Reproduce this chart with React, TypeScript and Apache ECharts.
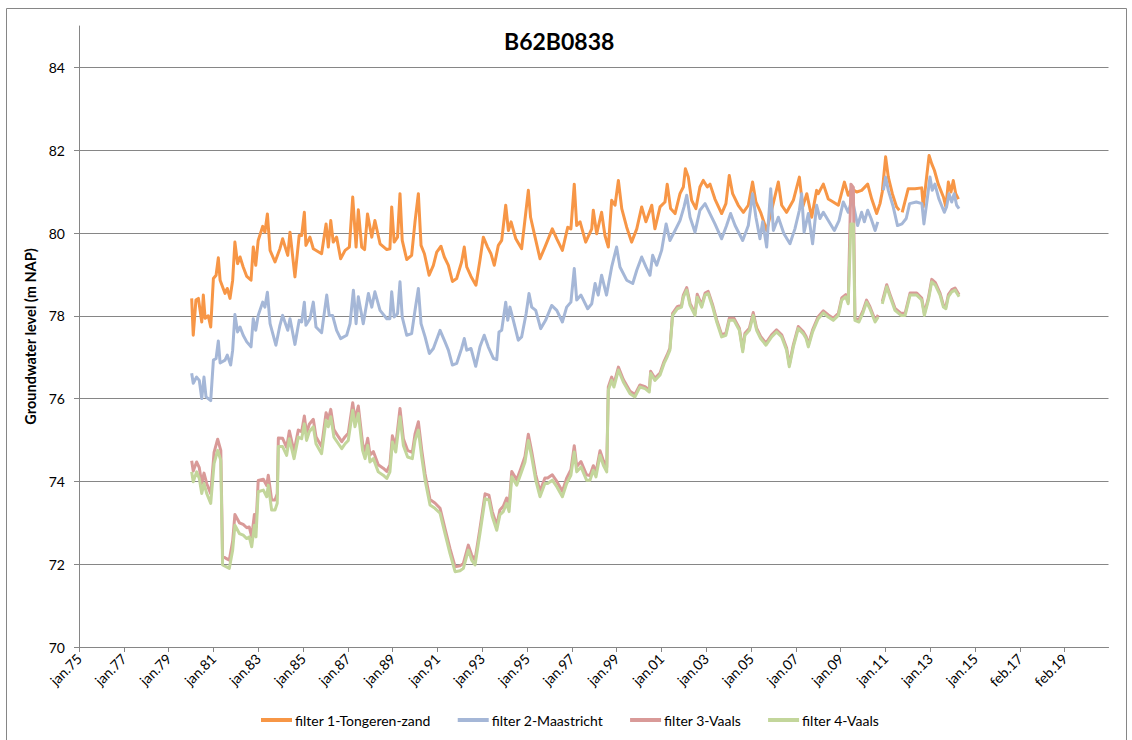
import React, { useEffect, useRef } from "react";
import * as echarts from "echarts";

const title = "B62B0838";
const yAxisName = "Groundwater level (m NAP)";
const xStartYear = 1975;
const xTickLabels = [
  "jan.75", "jan.77", "jan.79", "jan.81", "jan.83", "jan.85", "jan.87", "jan.89",
  "jan.91", "jan.93", "jan.95", "jan.97", "jan.99", "jan.01", "jan.03", "jan.05",
  "jan.07", "jan.09", "jan.11", "jan.13", "jan.15", "feb.17", "feb.19",
];
const yTickValues = [70, 72, 74, 76, 78, 80, 82, 84];
const seriesNames = ["filter 1-Tongeren-zand", "filter 2-Maastricht", "filter 3-Vaals", "filter 4-Vaals"];
const seriesColors = ["#F79646", "#A5B7D7", "#D99A98", "#C3D69B"];

// [decimal year, level m NAP]
const filter1: any[] = [
  [1980.03,78.42],[1980.1,77.53],[1980.22,78.38],[1980.33,78.42],[1980.48,77.85],[1980.55,78.5],[1980.63,77.94],[1980.77,78.0],[1980.88,77.73],[1981.0,78.9],[1981.12,78.98],[1981.22,79.4],[1981.3,78.86],[1981.52,78.54],[1981.62,78.66],[1981.74,78.42],[1981.86,78.86],[1981.96,79.78],[1982.08,79.26],[1982.19,79.42],[1982.33,79.18],[1982.49,78.95],[1982.68,78.86],[1982.78,79.66],[1982.89,79.22],[1983.0,79.82],[1983.2,80.16],[1983.3,80.02],[1983.41,80.46],[1983.53,79.58],[1983.75,79.3],[1983.97,79.62],[1984.09,79.86],[1984.32,79.46],[1984.42,80.02],[1984.64,78.94],[1984.83,79.94],[1984.94,79.94],[1985.06,80.5],[1985.13,79.7],[1985.31,79.9],[1985.46,79.62],[1985.83,79.5],[1986.03,80.22],[1986.13,79.66],[1986.24,80.3],[1986.35,79.78],[1986.5,79.9],[1986.68,79.38],[1986.88,79.58],[1987.07,79.66],[1987.22,80.87],[1987.37,79.66],[1987.47,80.56],[1987.62,79.66],[1987.75,79.6],[1987.88,80.46],[1988.07,79.9],[1988.21,80.3],[1988.44,79.74],[1988.74,79.6],[1988.88,79.62],[1988.96,80.63],[1989.07,79.78],[1989.22,79.9],[1989.33,80.95],[1989.43,79.82],[1989.63,79.36],[1989.85,79.46],[1990.0,80.27],[1990.15,80.95],[1990.27,79.7],[1990.42,79.5],[1990.63,78.98],[1990.82,79.22],[1990.97,79.54],[1991.16,79.68],[1991.31,79.42],[1991.49,79.22],[1991.67,78.83],[1991.86,78.9],[1992.08,79.3],[1992.2,79.66],[1992.31,79.18],[1992.5,78.95],[1992.72,78.74],[1992.9,79.34],[1993.05,79.9],[1993.24,79.66],[1993.39,79.5],[1993.54,79.22],[1993.72,79.7],[1993.87,79.82],[1994.05,80.67],[1994.17,80.06],[1994.29,80.27],[1994.5,79.86],[1994.76,79.62],[1995.06,81.03],[1995.16,80.38],[1995.36,79.9],[1995.58,79.38],[1995.8,79.66],[1996.13,80.1],[1996.33,79.86],[1996.58,79.58],[1996.82,80.14],[1996.96,80.1],[1997.11,81.18],[1997.22,80.18],[1997.37,80.27],[1997.62,79.78],[1997.89,80.1],[1997.96,80.55],[1998.11,79.98],[1998.33,80.5],[1998.48,79.94],[1998.63,79.66],[1998.78,80.79],[1998.93,80.67],[1999.08,81.27],[1999.23,80.59],[1999.45,80.14],[1999.67,79.78],[1999.9,80.1],[2000.12,80.63],[2000.31,80.27],[2000.57,80.67],[2000.71,80.1],[2000.94,80.63],[2001.16,80.75],[2001.26,81.18],[2001.41,80.59],[2001.61,80.47],[2001.83,80.95],[2001.98,81.11],[2002.07,81.55],[2002.2,81.35],[2002.35,80.79],[2002.54,80.59],[2002.72,81.11],[2002.87,81.27],[2003.05,81.11],[2003.17,81.18],[2003.39,80.82],[2003.69,80.47],[2003.88,80.71],[2004.03,81.39],[2004.18,80.95],[2004.43,80.67],[2004.66,80.5],[2004.88,80.67],[2005.07,81.23],[2005.22,80.75],[2005.43,80.5],[2005.7,80.06],[2005.92,80.55],[2006.22,81.23],[2006.37,80.67],[2006.59,80.5],[2006.89,80.79],[2007.16,81.35],[2007.31,80.63],[2007.49,80.95],[2007.71,80.38],[2007.93,81.03],[2008.0,80.95],[2008.23,81.18],[2008.45,80.82],[2008.67,80.75],[2008.9,80.67],[2009.17,81.23],[2009.34,80.91],[2009.49,81.07],[2009.72,80.99],[2009.94,81.03],[2010.21,81.18],[2010.39,80.82],[2010.61,80.47],[2010.76,80.71],[2010.86,80.99],[2011.01,81.84],[2011.13,81.35],[2011.31,80.95],[2011.5,80.63],[2011.62,80.55],[2011.68,"-"],[2011.75,80.5],[2012.02,81.07],[2012.32,81.07],[2012.62,81.09],[2012.69,80.63],[2012.84,81.35],[2012.95,81.87],[2013.07,81.67],[2013.19,81.51],[2013.36,81.18],[2013.59,80.87],[2013.7,80.63],[2013.81,81.23],[2013.93,80.99],[2014.03,81.27],[2014.14,80.95],[2014.26,80.82],
];

const filter2: any[] = [
  [1980.03,76.61],[1980.1,76.37],[1980.25,76.52],[1980.37,76.44],[1980.48,76.0],[1980.58,76.52],[1980.67,76.04],[1980.88,75.95],[1981.0,76.93],[1981.12,76.97],[1981.22,77.39],[1981.3,76.86],[1981.52,76.93],[1981.62,77.05],[1981.77,76.81],[1981.86,77.17],[1981.96,78.03],[1982.08,77.61],[1982.19,77.73],[1982.33,77.53],[1982.49,77.37],[1982.68,77.25],[1982.78,77.93],[1982.89,77.65],[1983.0,78.01],[1983.2,78.33],[1983.3,78.21],[1983.41,78.57],[1983.53,77.81],[1983.79,77.29],[1983.97,77.77],[1984.09,78.01],[1984.32,77.65],[1984.42,77.93],[1984.64,77.31],[1984.83,77.89],[1984.94,77.85],[1985.06,78.33],[1985.13,77.77],[1985.31,77.93],[1985.46,78.33],[1985.58,77.73],[1985.83,77.59],[1986.06,78.5],[1986.17,78.01],[1986.32,78.01],[1986.5,77.65],[1986.68,77.45],[1986.95,77.53],[1987.1,77.81],[1987.25,78.62],[1987.37,77.81],[1987.47,78.46],[1987.69,77.81],[1987.92,78.54],[1988.07,78.21],[1988.21,78.58],[1988.44,78.13],[1988.74,77.93],[1988.88,77.93],[1988.96,78.58],[1989.07,77.97],[1989.22,78.05],[1989.33,78.82],[1989.43,77.97],[1989.63,77.53],[1989.85,77.57],[1990.0,78.13],[1990.15,78.66],[1990.27,77.81],[1990.45,77.49],[1990.64,77.09],[1990.82,77.21],[1991.12,77.65],[1991.34,77.37],[1991.49,77.17],[1991.67,76.81],[1991.86,76.85],[1992.08,77.21],[1992.2,77.45],[1992.31,77.17],[1992.5,77.21],[1992.71,76.78],[1992.9,77.25],[1993.09,77.53],[1993.27,77.25],[1993.5,76.97],[1993.65,76.94],[1993.75,77.61],[1993.87,77.65],[1994.05,78.33],[1994.14,77.89],[1994.24,78.21],[1994.39,77.89],[1994.61,77.41],[1994.76,77.49],[1994.96,78.05],[1995.09,78.54],[1995.21,78.21],[1995.39,78.13],[1995.61,77.69],[1995.83,77.89],[1996.1,78.25],[1996.33,78.13],[1996.58,77.85],[1996.77,78.21],[1996.96,78.33],[1997.11,79.14],[1997.22,78.38],[1997.41,78.5],[1997.71,78.17],[1997.89,78.29],[1998.04,78.78],[1998.18,78.5],[1998.33,78.98],[1998.55,78.5],[1998.78,79.18],[1999.0,79.66],[1999.15,79.18],[1999.45,78.86],[1999.72,78.78],[1999.9,79.1],[2000.12,79.42],[2000.31,79.18],[2000.49,78.98],[2000.61,79.46],[2000.79,79.22],[2001.01,79.58],[2001.21,80.22],[2001.38,79.82],[2001.61,80.06],[2001.83,80.3],[2002.01,80.63],[2002.13,80.91],[2002.28,80.38],[2002.5,80.02],[2002.72,80.55],[2002.95,80.71],[2003.14,80.5],[2003.39,80.22],[2003.69,79.86],[2003.91,80.18],[2004.09,80.47],[2004.29,80.18],[2004.63,79.82],[2004.88,80.18],[2005.07,80.95],[2005.22,80.38],[2005.4,79.86],[2005.52,80.27],[2005.7,79.66],[2005.88,81.07],[2006.0,80.06],[2006.22,80.38],[2006.47,79.98],[2006.74,79.74],[2006.96,80.1],[2007.16,80.55],[2007.26,80.95],[2007.37,80.02],[2007.56,80.47],[2007.75,79.74],[2007.93,80.67],[2008.08,80.35],[2008.23,80.5],[2008.45,80.3],[2008.72,80.06],[2008.93,80.3],[2009.12,80.75],[2009.34,80.5],[2009.52,80.82],[2009.76,80.18],[2009.94,80.5],[2010.06,80.27],[2010.21,80.55],[2010.36,80.35],[2010.54,80.06],[2010.66,80.27],[2010.78,"-"],[2010.91,81.03],[2011.01,81.35],[2011.13,81.03],[2011.35,80.63],[2011.54,80.18],[2011.74,80.22],[2011.93,80.35],[2012.08,80.71],[2012.38,80.75],[2012.63,80.71],[2012.72,80.22],[2012.88,80.87],[2012.99,81.35],[2013.09,81.03],[2013.21,81.18],[2013.39,80.82],[2013.63,80.5],[2013.73,80.63],[2013.84,80.95],[2013.96,80.75],[2014.07,80.95],[2014.18,80.67],[2014.29,80.59],
];

const filter3: any[] = [
  [1980.03,74.5],[1980.1,74.25],[1980.25,74.47],[1980.37,74.33],[1980.48,73.95],[1980.58,74.2],[1980.7,73.95],[1980.88,73.7],[1981.03,74.7],[1981.19,75.02],[1981.33,74.75],[1981.41,72.2],[1981.56,72.14],[1981.71,72.1],[1981.86,72.56],[1981.96,73.2],[1982.16,73.0],[1982.33,72.96],[1982.49,72.88],[1982.6,72.9],[1982.71,72.66],[1982.83,73.2],[1982.9,72.9],[1983.0,74.02],[1983.23,74.05],[1983.38,73.9],[1983.45,74.15],[1983.6,73.55],[1983.75,73.55],[1983.85,73.7],[1983.9,75.05],[1984.09,75.04],[1984.27,74.82],[1984.39,75.22],[1984.6,74.72],[1984.79,75.24],[1984.94,75.2],[1985.06,75.58],[1985.16,75.16],[1985.28,75.38],[1985.46,75.5],[1985.58,75.08],[1985.83,74.84],[1986.03,75.66],[1986.13,75.5],[1986.24,75.74],[1986.38,75.25],[1986.58,75.08],[1986.73,74.96],[1986.88,75.08],[1987.02,75.16],[1987.22,75.9],[1987.32,75.5],[1987.47,75.82],[1987.66,74.92],[1987.77,74.72],[1987.89,75.04],[1987.99,74.64],[1988.14,74.72],[1988.36,74.4],[1988.58,74.32],[1988.74,74.24],[1988.88,74.4],[1988.99,75.1],[1989.14,74.86],[1989.33,75.76],[1989.48,75.03],[1989.67,74.75],[1989.88,74.7],[1990.0,75.14],[1990.15,75.44],[1990.3,74.76],[1990.45,74.18],[1990.67,73.56],[1990.89,73.48],[1991.12,73.35],[1991.34,72.86],[1991.56,72.38],[1991.79,71.94],[1992.01,71.96],[1992.16,72.02],[1992.38,72.46],[1992.53,72.22],[1992.68,72.1],[1992.9,72.86],[1993.13,73.7],[1993.3,73.67],[1993.45,73.27],[1993.65,72.94],[1993.79,73.31],[1993.94,73.4],[1994.09,73.6],[1994.2,73.4],[1994.32,74.24],[1994.54,74.04],[1994.73,74.32],[1994.91,74.6],[1995.06,75.14],[1995.21,74.72],[1995.39,74.16],[1995.58,73.76],[1995.8,74.08],[1995.92,74.08],[1996.13,74.16],[1996.33,74.0],[1996.58,73.76],[1996.77,74.08],[1996.96,74.28],[1997.11,74.86],[1997.22,74.36],[1997.41,74.48],[1997.66,74.16],[1997.81,74.14],[1997.96,74.38],[1998.08,74.22],[1998.26,74.74],[1998.41,74.5],[1998.56,74.34],[1998.63,76.28],[1998.78,76.52],[1998.88,76.35],[1999.08,76.76],[1999.3,76.46],[1999.6,76.18],[1999.82,76.1],[2000.04,76.33],[2000.27,76.29],[2000.46,76.21],[2000.52,76.66],[2000.71,76.49],[2000.94,76.62],[2001.12,76.9],[2001.26,77.06],[2001.38,77.22],[2001.5,78.06],[2001.71,78.22],[2001.9,78.26],[2001.98,78.5],[2002.13,78.68],[2002.28,78.3],[2002.5,78.06],[2002.6,78.52],[2002.8,78.26],[2002.95,78.55],[2003.09,78.59],[2003.29,78.26],[2003.47,77.9],[2003.69,77.54],[2003.88,77.58],[2004.03,77.94],[2004.24,77.94],[2004.48,77.7],[2004.63,77.18],[2004.73,77.58],[2004.93,77.7],[2005.1,78.08],[2005.25,77.7],[2005.43,77.5],[2005.67,77.34],[2005.92,77.54],[2006.14,77.66],[2006.37,77.54],[2006.59,77.22],[2006.71,76.82],[2006.89,77.3],[2007.11,77.74],[2007.33,77.62],[2007.46,77.5],[2007.56,77.3],[2007.75,77.66],[2008.0,77.98],[2008.23,78.12],[2008.45,78.02],[2008.67,77.94],[2008.9,78.06],[2009.05,78.43],[2009.23,78.51],[2009.34,78.34],[2009.46,81.18],[2009.57,81.1],[2009.64,77.94],[2009.82,77.9],[2010.01,78.14],[2010.16,78.38],[2010.31,78.22],[2010.54,77.9],[2010.68,78.02],[2010.77,"-"],[2010.86,78.34],[2011.06,78.75],[2011.21,78.51],[2011.43,78.18],[2011.7,78.06],[2011.88,78.06],[2012.1,78.55],[2012.4,78.55],[2012.62,78.43],[2012.74,78.06],[2012.92,78.43],[2013.07,78.88],[2013.23,78.8],[2013.44,78.55],[2013.59,78.26],[2013.7,78.22],[2013.81,78.51],[2013.96,78.63],[2014.11,78.67],[2014.29,78.51],
];

const filter4: any[] = [
  [1980.03,74.23],[1980.1,73.99],[1980.25,74.23],[1980.37,74.07],[1980.48,73.71],[1980.58,73.95],[1980.7,73.71],[1980.88,73.47],[1981.03,74.43],[1981.19,74.75],[1981.33,74.51],[1981.41,71.98],[1981.56,71.94],[1981.71,71.9],[1981.86,72.34],[1981.96,72.94],[1982.16,72.74],[1982.33,72.7],[1982.49,72.62],[1982.6,72.66],[1982.71,72.42],[1982.83,72.94],[1982.9,72.66],[1983.0,73.75],[1983.23,73.79],[1983.38,73.63],[1983.45,73.91],[1983.6,73.31],[1983.75,73.31],[1983.85,73.47],[1983.9,74.84],[1984.09,74.84],[1984.27,74.63],[1984.39,75.03],[1984.6,74.55],[1984.79,75.07],[1984.94,75.03],[1985.06,75.39],[1985.16,74.99],[1985.28,75.2],[1985.46,75.32],[1985.58,74.91],[1985.83,74.67],[1986.03,75.48],[1986.13,75.32],[1986.24,75.56],[1986.38,75.07],[1986.58,74.91],[1986.73,74.79],[1986.88,74.91],[1987.02,74.99],[1987.22,75.72],[1987.32,75.32],[1987.47,75.64],[1987.66,74.75],[1987.77,74.55],[1987.89,74.87],[1987.99,74.47],[1988.14,74.55],[1988.36,74.23],[1988.58,74.15],[1988.74,74.07],[1988.88,74.23],[1988.99,74.95],[1989.14,74.71],[1989.33,75.56],[1989.48,74.87],[1989.67,74.59],[1989.88,74.55],[1990.0,74.99],[1990.15,75.24],[1990.3,74.59],[1990.45,74.03],[1990.67,73.43],[1990.89,73.35],[1991.12,73.23],[1991.34,72.74],[1991.56,72.26],[1991.79,71.82],[1992.01,71.84],[1992.16,71.9],[1992.38,72.34],[1992.53,72.1],[1992.68,71.98],[1992.9,72.74],[1993.13,73.58],[1993.3,73.55],[1993.45,73.15],[1993.65,72.82],[1993.79,73.19],[1993.94,73.27],[1994.09,73.47],[1994.2,73.27],[1994.32,74.11],[1994.54,73.91],[1994.73,74.19],[1994.91,74.47],[1995.06,74.99],[1995.21,74.59],[1995.39,74.03],[1995.58,73.63],[1995.8,73.95],[1995.92,73.95],[1996.13,74.03],[1996.33,73.87],[1996.58,73.63],[1996.77,73.95],[1996.96,74.15],[1997.11,74.71],[1997.22,74.23],[1997.41,74.35],[1997.66,74.03],[1997.81,74.03],[1997.96,74.27],[1998.08,74.11],[1998.26,74.63],[1998.41,74.39],[1998.56,74.23],[1998.63,76.2],[1998.78,76.44],[1998.88,76.28],[1999.08,76.69],[1999.3,76.4],[1999.6,76.12],[1999.82,76.04],[2000.04,76.28],[2000.27,76.24],[2000.46,76.16],[2000.52,76.61],[2000.71,76.44],[2000.94,76.57],[2001.12,76.85],[2001.26,77.01],[2001.38,77.17],[2001.5,78.01],[2001.71,78.17],[2001.9,78.21],[2001.98,78.45],[2002.13,78.62],[2002.28,78.25],[2002.5,78.01],[2002.6,78.45],[2002.8,78.21],[2002.95,78.5],[2003.09,78.54],[2003.29,78.21],[2003.47,77.85],[2003.69,77.49],[2003.88,77.53],[2004.03,77.89],[2004.24,77.89],[2004.48,77.65],[2004.63,77.13],[2004.73,77.53],[2004.93,77.65],[2005.1,78.01],[2005.25,77.65],[2005.43,77.45],[2005.67,77.29],[2005.92,77.49],[2006.14,77.61],[2006.37,77.49],[2006.59,77.17],[2006.71,76.77],[2006.89,77.25],[2007.11,77.69],[2007.33,77.57],[2007.46,77.45],[2007.56,77.25],[2007.75,77.61],[2008.0,77.93],[2008.23,78.07],[2008.45,77.97],[2008.67,77.89],[2008.9,78.01],[2009.05,78.38],[2009.23,78.46],[2009.34,78.29],[2009.46,80.22],[2009.57,80.22],[2009.64,77.89],[2009.82,77.85],[2010.01,78.09],[2010.16,78.33],[2010.31,78.17],[2010.54,77.85],[2010.68,77.97],[2010.77,"-"],[2010.86,78.29],[2011.06,78.7],[2011.21,78.46],[2011.43,78.13],[2011.7,78.01],[2011.88,78.01],[2012.1,78.5],[2012.4,78.5],[2012.62,78.38],[2012.74,78.01],[2012.92,78.38],[2013.07,78.82],[2013.23,78.74],[2013.44,78.5],[2013.59,78.21],[2013.7,78.17],[2013.81,78.46],[2013.96,78.58],[2014.11,78.62],[2014.29,78.46],
];

const FONT = "Lato, 'Open Sans', sans-serif";

export default function App() {
  const ref = useRef<HTMLDivElement>(null);
  useEffect(() => {
    if (!ref.current) return;
    const chart = echarts.init(ref.current, undefined, { renderer: "svg" });
    const toX = (arr: any[]) => arr.map(([t, v]) => [t - xStartYear, v]);
    const allData = [filter1, filter2, filter3, filter4];
    const xTickValues = xTickLabels.map((_, i) => i * 2);
    chart.setOption({
      animation: false,
      backgroundColor: "#ffffff",
      textStyle: { fontFamily: FONT },
      title: {
        text: title,
        left: 499,
        top: 24,
        textStyle: { fontFamily: FONT, fontSize: 23, fontWeight: "bold", color: "#000" },
      },
      legend: {
        bottom: 8,
        left: 256,
        itemWidth: 31,
        itemHeight: 4,
        itemGap: 27,
        icon: "rect",
        textStyle: { fontFamily: FONT, fontSize: 14, color: "#000", padding: [0, 0, 0, -2] },
        data: seriesNames,
      },
      grid: { left: 79, right: 23.5, top: 26, bottom: 93, containLabel: false },
      xAxis: {
        type: "value",
        min: 0,
        max: 45.96,
        axisLine: { show: true, lineStyle: { color: "#868686", width: 1 } },
        axisTick: { show: true, length: 5, lineStyle: { color: "#868686" }, customValues: xTickValues },
        axisLabel: {
          rotate: 45,
          margin: 9,
          fontFamily: FONT,
          fontSize: 14,
          color: "#000",
          customValues: xTickValues,
          formatter: (v: number) => xTickLabels[Math.round(v / 2)] ?? "",
        },
        splitLine: { show: false },
      },
      yAxis: {
        type: "value",
        min: 70,
        max: 85,
        name: yAxisName,
        nameLocation: "middle",
        nameGap: 36,
        nameTextStyle: { fontFamily: FONT, fontSize: 14.5, fontWeight: "bold", color: "#000" },
        axisLine: { show: true, lineStyle: { color: "#868686", width: 1 } },
        axisTick: { show: true, inside: false, length: 5, lineStyle: { color: "#868686" }, customValues: yTickValues },
        axisLabel: {
          margin: 14,
          fontFamily: FONT,
          fontSize: 14,
          color: "#000",
          customValues: yTickValues,
        },
        splitLine: { show: true, lineStyle: { color: "#868686", width: 1 } },
      },
      graphic: [
        {
          type: "rect",
          shape: { x: 6.5, y: 8.5, width: 1120, height: 760 },
          style: { fill: "none", stroke: "#868686", lineWidth: 1 },
          silent: true,
        },
      ],
      series: allData.map((d, i) => ({
        name: seriesNames[i],
        type: "line",
        data: toX(d),
        showSymbol: false,
        symbol: "none",
        connectNulls: false,
        lineStyle: { color: seriesColors[i], width: 3, join: "round" },
        itemStyle: { color: seriesColors[i] },
        emphasis: { disabled: true },
      })),
    });
    return () => chart.dispose();
  }, []);
  return (
    <div
      ref={ref}
      style={{ position: "fixed", left: 0, top: 0, width: 1132, height: 740, background: "#fff" }}
    />
  );
}
